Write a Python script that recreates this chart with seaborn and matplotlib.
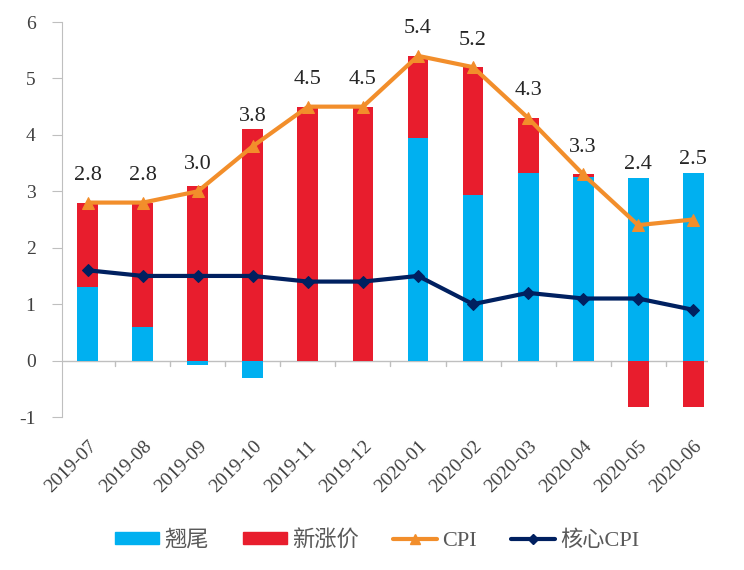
import numpy as np
import pandas as pd
import matplotlib
matplotlib.use('Agg')
import matplotlib.pyplot as plt
import seaborn as sns
from matplotlib.patches import Patch
from matplotlib.lines import Line2D

sns.set_style('white')
plt.rcParams['font.family'] = ['Liberation Serif', 'Noto Sans CJK SC', 'DejaVu Sans']
plt.rcParams['axes.unicode_minus'] = False

months = ['2019-07', '2019-08', '2019-09', '2019-10', '2019-11', '2019-12',
          '2020-01', '2020-02', '2020-03', '2020-04', '2020-05', '2020-06']
carryover = [1.3, 0.6, -0.08, -0.3, 0.0, 0.0, 3.95, 2.93, 3.33, 3.25, 3.24, 3.33]
new_rise = [1.5, 2.2, 3.1, 4.1, 4.5, 4.5, 1.45, 2.27, 0.97, 0.05, -0.83, -0.83]
cpi = [2.8, 2.8, 3.0, 3.8, 4.5, 4.5, 5.4, 5.2, 4.3, 3.3, 2.4, 2.5]
core_cpi = [1.6, 1.5, 1.5, 1.5, 1.4, 1.4, 1.5, 1.0, 1.2, 1.1, 1.1, 0.9]

c_blue = '#00B0F0'
c_red = '#E81D2D'
c_orange = '#F28E2B'
c_navy = '#002060'
grey = '#BFBFBF'

df = pd.DataFrame({'month': months, 'carry': carryover, 'new': new_rise,
                   'cpi': cpi, 'core': core_cpi})
df['x'] = np.arange(len(df))
# stacked look: red drawn first up to the stack top, blue painted over it
df['red_h'] = np.where(df['new'] > 0, df['new'] + df['carry'].clip(lower=0), df['new'])
df['top'] = df['carry'].clip(lower=0) + df['new'].clip(lower=0)

fig = plt.figure(figsize=(7.44, 5.70), dpi=100)
ax = fig.add_axes([0.0833, 0.2684, 0.8683, 0.693])

sns.barplot(data=df, x='x', y='red_h', color=c_red, width=0.38, saturation=1,
            native_scale=True, linewidth=0, ax=ax, zorder=2)
sns.barplot(data=df, x='x', y='carry', color=c_blue, width=0.38, saturation=1,
            native_scale=True, linewidth=0, ax=ax, zorder=2)

sns.lineplot(data=df, x='x', y='cpi', color=c_orange, lw=3, marker='^',
             markersize=9, markeredgecolor=c_orange, ax=ax, zorder=4)
sns.lineplot(data=df, x='x', y='core', color=c_navy, lw=3, marker='D',
             markersize=6, markeredgecolor=c_navy, ax=ax, zorder=4)

# CPI value labels
label_y = np.maximum(df['cpi'] + 0.48, df['top'] + 0.23)
for xi, yi, v in zip(df['x'], label_y, df['cpi']):
    ax.text(xi, yi, f'{v:.1f}', ha='center', va='center', fontsize=16,
            color='#262626')

ax.axhline(0, color=grey, lw=1, zorder=1)
for b in np.arange(len(df) - 1) + 0.5:
    ax.plot([b, b], [0, -0.1], color=grey, lw=1, zorder=1)

ax.set_xlim(-0.47, len(df) - 0.73)
ax.set_ylim(-1, 6)
ax.set_yticks(range(-1, 7))
ax.set_xticks(df['x'])
ax.set_xticklabels(months, rotation=45, ha='right', va='top', rotation_mode='anchor')
ax.tick_params(axis='x', length=0, pad=15, labelsize=14, labelcolor='#404040')
ax.tick_params(axis='y', left=True, length=7, color=grey, pad=12, labelsize=14,
               labelcolor='#404040')
ax.set_xlabel('')
ax.set_ylabel('')
for s in ['top', 'right', 'bottom']:
    ax.spines[s].set_visible(False)
ax.spines['left'].set_color(grey)

handles = [Patch(color=c_blue, label='翘尾'),
           Patch(color=c_red, label='新涨价'),
           Line2D([], [], color=c_orange, lw=3, marker='^', markersize=7, label='CPI'),
           Line2D([], [], color=c_navy, lw=3, marker='D', markersize=5, label='核心CPI')]
fig.legend(handles=handles, loc='center', bbox_to_anchor=(0.507, 0.052), ncol=4,
           frameon=False, fontsize=16, handlelength=2.0, handleheight=0.5,
           columnspacing=1.5, handletextpad=0.25, labelcolor='#595959')

fig.savefig('out.png', dpi=100)
